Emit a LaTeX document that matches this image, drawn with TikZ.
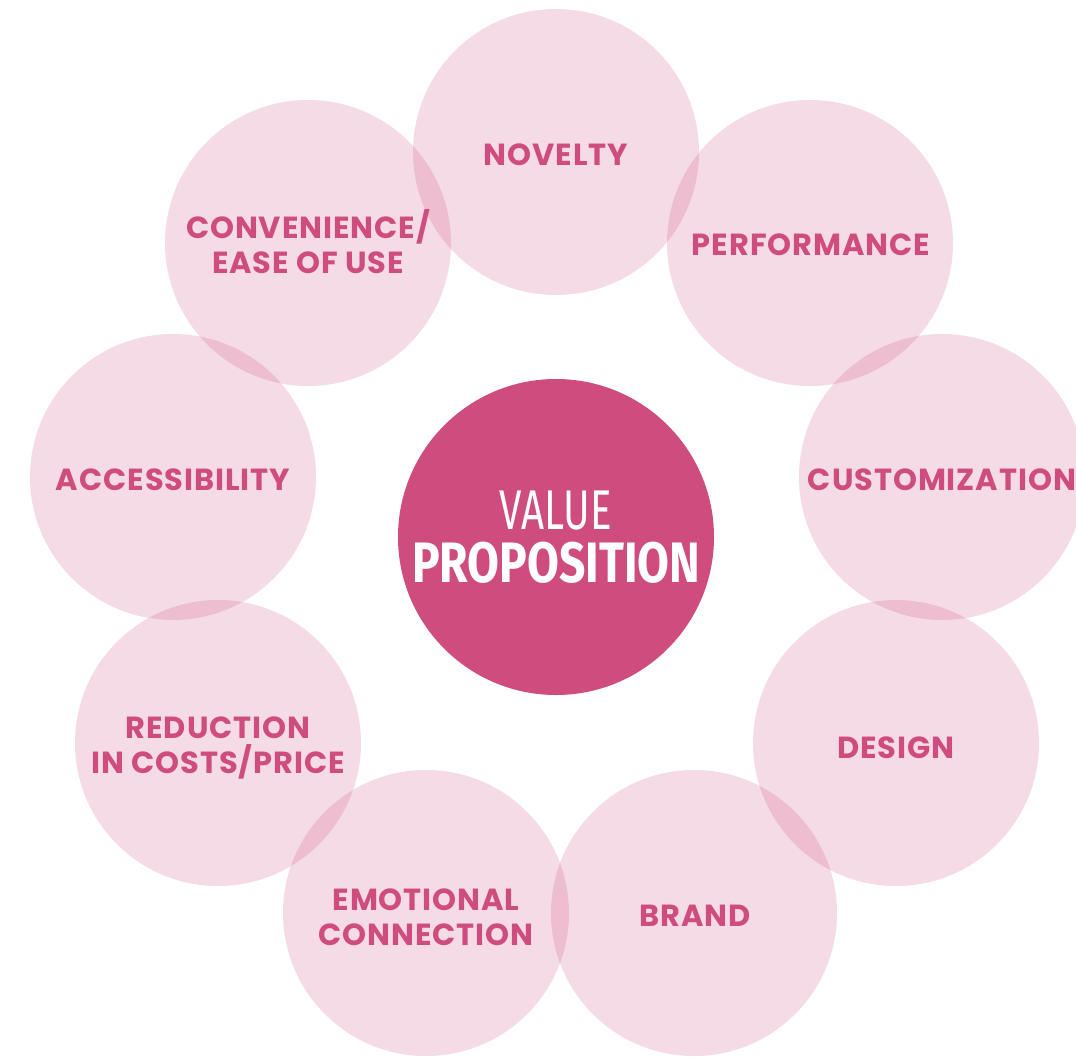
\documentclass[tikz,border=0pt]{standalone}
\usepackage{fontspec}
\setmainfont{Poppins}[LetterSpace=3]
\newfontfamily\handfont{Fira Sans}
\definecolor{vpink}{RGB}{207,76,126}
\begin{document}
\begin{tikzpicture}[x=1pt,y=-1pt,
  petal/.style={circle,fill=vpink,fill opacity=0.2,minimum size=286pt,inner sep=0pt},
  lbl/.style={text=vpink,font=\fontsize{30.5}{35}\selectfont\bfseries,align=center,inner sep=0pt}]
\useasboundingbox (0,0) rectangle (1076,1057);
\fill[white] (0,0) rectangle (1076,1057);
\node[petal] (nov) at (556,152) {};
\node[petal] (per) at (810,243) {};
\node[petal] (cus) at (942,477) {};
\node[petal] (des) at (896,743) {};
\node[petal] (bra) at (694,913) {};
\node[petal] (emo) at (426,913) {};
\node[petal] (red) at (218,743) {};
\node[petal] (acc) at (173,477) {};
\node[petal] (con) at (308,243) {};
\node[circle,fill=vpink,minimum size=316pt,inner sep=0pt] (vp) at (556,537) {};
\node[lbl] (tnov) at (556,155) {NOVELTY};
\node[lbl] (tper) at (811,245) {PERFORMANCE};
\node[lbl] (tcus) at (942,480) {CUSTOMIZATION};
\node[lbl] (tdes) at (896,748) {DESIGN};
\node[lbl] (tbra) at (695,916) {BRAND};
\node[lbl] (temo) at (426,917) {EMOTIONAL\\CONNECTION};
\node[lbl] (tred) at (218,748) {REDUCTION\\IN COSTS/PRICE};
\node[lbl] (tacc) at (173,480) {ACCESSIBILITY};
\node[lbl] (tcon) at (308,242) {CONVENIENCE/\\EASE OF USE};
\node[text=white,inner sep=0pt,font=\handfont\fontsize{56}{56}\selectfont] (tv1) at (556,511) {\scalebox{0.72}[1]{VALUE}};
\node[text=white,inner sep=0pt,font=\handfont\bfseries\fontsize{57}{57}\selectfont] (tv2) at (556,563) {\scalebox{0.81}[1]{PROPOSITION}};
\end{tikzpicture}
\end{document}
